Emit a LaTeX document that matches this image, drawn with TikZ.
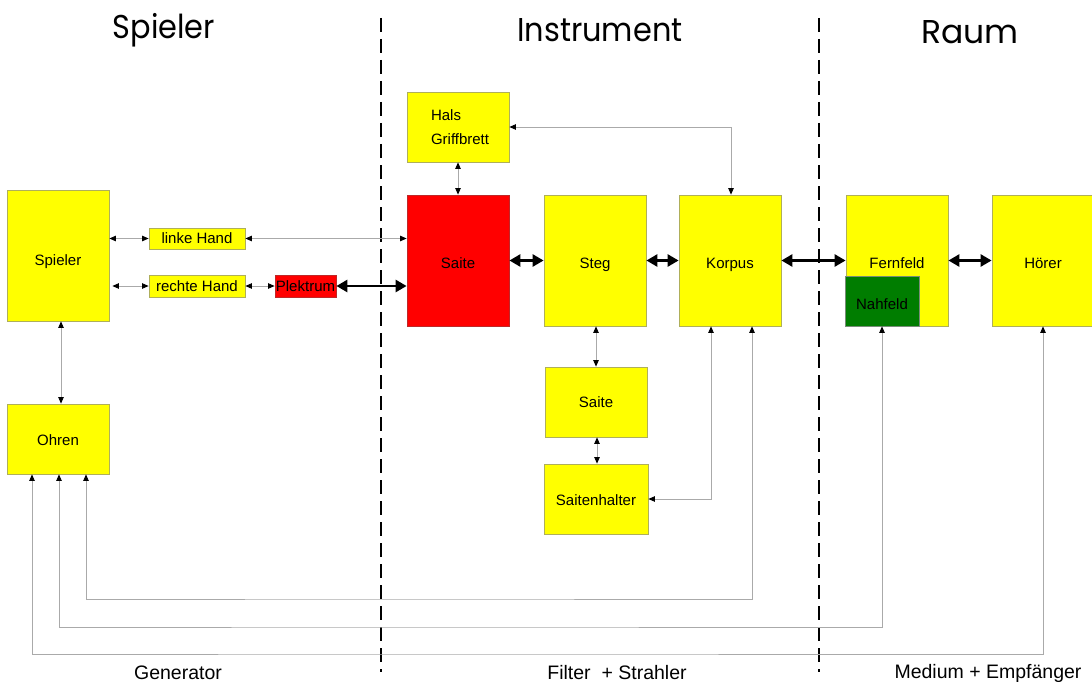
\documentclass[tikz,border=0pt]{standalone}
\usepackage{fontspec}
\setmainfont{Liberation Sans}
\newfontfamily\titlefont{Poppins}
\usetikzlibrary{arrows.meta,calc}
\definecolor{boxyellow}{RGB}{255,255,0}
\definecolor{yborder}{RGB}{175,175,90}
\definecolor{boxred}{RGB}{255,0,0}
\definecolor{rborder}{RGB}{190,40,40}
\definecolor{boxgreen}{RGB}{0,125,0}
\definecolor{gborder}{RGB}{120,140,120}
\definecolor{linegray}{RGB}{170,170,170}
\newcommand{\ttl}[1]{\scalebox{0.92}[1]{#1}}
\tikzset{
  blk/.style={draw=yborder, fill=boxyellow, line width=0.8pt, inner sep=0pt, font=\fontsize{15}{18}\selectfont},
  lowtext/.style={text height=19pt, text depth=3pt},
  midtext/.style={text height=15pt, text depth=3pt},
  redblk/.style={blk, draw=rborder, fill=boxred},
  greenblk/.style={blk, draw=gborder, fill=boxgreen},
  thinarrow/.style={draw=linegray, line width=0.8pt, {Triangle[length=6.5pt,width=5.5pt,color=black]}-{Triangle[length=6.5pt,width=5.5pt,color=black]}},
  thickarrow/.style={draw=black, line width=2.6pt, {Triangle[length=11pt,width=12pt,color=black]}-{Triangle[length=11pt,width=12pt,color=black]}},
  divider/.style={draw=black, line width=1.4pt, dash pattern=on 14pt off 7pt},
  title/.style={font=\titlefont\fontsize{33}{36}\selectfont},
  sublabel/.style={font=\fontsize{19.5}{22}\selectfont, anchor=base}
}
\begin{document}
\begin{tikzpicture}[x=1pt,y=-1pt]
\useasboundingbox (0,0) rectangle (1092,682);
% titles
\node[title] (tSp) at (164,30) {\ttl{Spieler}};
\node[title] (tIn) at (600,30) {\ttl{Instrument}};
\node[title] (tRa) at (970,32) {Raum};
% dividers
\coordinate (d1t) at (381,18); \coordinate (d1b) at (381,672);
\coordinate (d2t) at (819,18); \coordinate (d2b) at (819,672);
\draw[divider] (d1t) -- (d1b);
\draw[divider] (d2t) -- (d2b);
% boxes
\node[blk, text height=23pt, text depth=3pt, minimum width=102pt, minimum height=131pt] (Spieler) at (58,255.5) {Spieler};
\node[blk, midtext, minimum width=102pt, minimum height=70pt] (Ohren) at (58,439) {Ohren};
\node[blk, minimum width=96pt, minimum height=21pt] (linkeH) at (197,238.5) {linke Hand};
\node[blk, minimum width=96pt, minimum height=22pt] (rechteH) at (197,286) {rechte Hand};
\node[redblk, minimum width=61pt, minimum height=22pt] (Plek) at (305.5,286) {Plektrum};
\node[blk, minimum width=102pt, minimum height=70pt, align=left, font=\fontsize{15}{24}\selectfont] (Hals) at (458,127) {\raisebox{-4pt}{\parbox{64pt}{Hals\\[0pt]Griffbrett}}\hspace*{-10pt}};
\node[redblk, lowtext, minimum width=102pt, minimum height=131pt] (Saite) at (458,260.5) {Saite};
\node[blk, lowtext, minimum width=102pt, minimum height=131pt] (Steg) at (595,260.5) {Steg};
\node[blk, lowtext, minimum width=102pt, minimum height=131pt] (Korpus) at (730,260.5) {Korpus};
\node[blk, minimum width=102pt, minimum height=70pt] (Saite2) at (596,402) {Saite};
\node[blk, midtext, minimum width=104pt, minimum height=70pt] (Halter) at (596,499) {Saitenhalter};
\node[blk, lowtext, minimum width=102pt, minimum height=131pt] (Fern) at (897,260.5) {Fernfeld};
\node[greenblk, lowtext, minimum width=74pt, minimum height=50pt] (Nah) at (882,301) {Nahfeld};
\node[blk, lowtext, minimum width=102pt, minimum height=131pt] (Hoerer) at (1043,260.5) {Hörer};
% thin connectors
\draw[thinarrow] (linkeH.west -| Spieler.east) -- (linkeH.west);
\draw[thinarrow] ([xshift=3pt]rechteH.west -| Spieler.east) -- (rechteH.west);
\draw[thinarrow] (linkeH.east) -- (linkeH.east -| Saite.west);
\draw[thinarrow] (rechteH.east) -- (Plek.west);
\draw[thinarrow] (Hals.south) -- (Saite.north);
\draw[thinarrow] (Hals.east) -| ([xshift=1pt]Korpus.north);
\draw[thinarrow] ([xshift=3pt]Spieler.south) -- ([xshift=3pt]Ohren.north);
\draw[thinarrow] ([xshift=1pt]Steg.south) -- (Saite2.north);
\draw[thinarrow] ([xshift=1pt]Saite2.south) -- ([xshift=1pt]Halter.north);
\draw[thinarrow] (Halter.east) -| ([xshift=-19pt]Korpus.south);
\coordinate (loopA) at (400,599);
\coordinate (loopB) at (400,627);
\coordinate (loopC) at (400,654);
\draw[thinarrow] ([xshift=22pt]Korpus.south) |- (loopA) -| ([xshift=28pt]Ohren.south);
\draw[thinarrow] (Nah.south) |- (loopB) -| ([xshift=1pt]Ohren.south);
\draw[thinarrow] (Hoerer.south) |- (loopC) -| ([xshift=-26pt]Ohren.south);
% thick connectors
\draw[thickarrow] (Plek.east) -- (Plek.east -| Saite.west);
\draw[thickarrow] (Saite.east) -- (Steg.west);
\draw[thickarrow] (Steg.east) -- (Korpus.west);
\draw[thickarrow] (Korpus.east) -- (Fern.west);
\draw[thickarrow] (Fern.east) -- (Hoerer.west);
% bottom labels
\node[sublabel] (lGen) at (178,679) {Generator};
\node[sublabel] (lFil) at (617,679) {Filter \ + Strahler};
\node[sublabel] (lMed) at (988,678) {Medium + Empfänger};
\end{tikzpicture}
\end{document}
